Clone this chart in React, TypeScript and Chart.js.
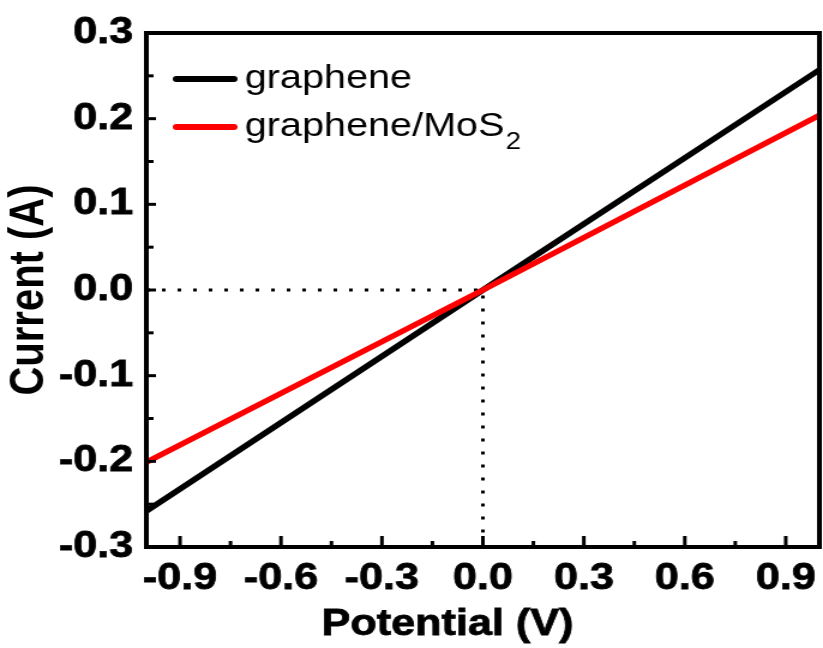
import React, { useEffect, useRef } from 'react';
import { Chart, registerables } from 'chart.js';

Chart.register(...registerables);

// ---- data ----
const potential = [-1, 0, 1];
const grapheneCurrent = [-0.258, 0, 0.257];
const mos2Current = [-0.201, 0, 0.204];
const seriesLabels = ['graphene', 'graphene/MoS₂'];
const seriesColors = ['#000000', '#ff0000'];
const guideX = [-1, 0, 0];
const guideY = [0, 0, -0.3];
const xTicks = [-0.9, -0.6, -0.3, 0, 0.3, 0.6, 0.9];
const xMinor = [-0.75, -0.45, -0.15, 0.15, 0.45, 0.75];
const yTicks = [-0.3, -0.2, -0.1, 0, 0.1, 0.2, 0.3];
const yMinor = [-0.25, -0.15, -0.05, 0.05, 0.15, 0.25];
const xTitle = 'Potential (V)';
const yTitle = 'Current (A)';

// the reference is horizontally stretched; render narrower and stretch via CSS
const OUT_W = 823;
const OUT_H = 648;
const STRETCH = 1.2;
const CANVAS_W = Math.round(OUT_W / STRETCH);

const FONT = "'Liberation Sans', Arial, sans-serif";

const framePlugin = {
  id: 'frameTicks',
  afterDraw(chart: any) {
    const { ctx, chartArea } = chart;
    const xs = chart.scales.x;
    const ys = chart.scales.y;
    ctx.save();
    ctx.strokeStyle = '#000';
    ctx.lineWidth = 3;
    ctx.lineCap = 'butt';
    const bottom = chartArea.bottom;
    const left = chartArea.left;
    const tick = (x1: number, y1: number, x2: number, y2: number) => {
      ctx.beginPath();
      ctx.moveTo(x1, y1);
      ctx.lineTo(x2, y2);
      ctx.stroke();
    };
    xTicks.forEach((v) => {
      const px = xs.getPixelForValue(v);
      tick(px, bottom, px, bottom - 11);
    });
    xMinor.forEach((v) => {
      const px = xs.getPixelForValue(v);
      tick(px, bottom, px, bottom - 6);
    });
    yTicks.slice(1, -1).forEach((v) => {
      const py = ys.getPixelForValue(v);
      tick(left, py, left + 8, py);
    });
    yMinor.forEach((v) => {
      const py = ys.getPixelForValue(v);
      tick(left, py, left + 6, py);
    });
    ctx.lineWidth = 4;
    ctx.strokeRect(chartArea.left, chartArea.top, chartArea.right - chartArea.left, chartArea.bottom - chartArea.top);

    // x-axis title (offset left of centre as in the reference)
    ctx.fillStyle = '#000';
    ctx.textAlign = 'center';
    ctx.textBaseline = 'alphabetic';
    ctx.font = `bold 36px ${FONT}`;
    ctx.lineWidth = 0.8;
    ctx.strokeStyle = '#000';
    ctx.fillText(xTitle, 373, 635);
    ctx.strokeText(xTitle, 373, 635);
    ctx.restore();
  },
};

const legendPlugin = {
  id: 'insideLegend',
  afterDraw(chart: any) {
    const { ctx } = chart;
    ctx.save();
    const rowsY = [79, 127];
    const lineX1 = 144;
    const lineX2 = 198;
    const textX = 204;
    seriesLabels.forEach((label, i) => {
      const y = rowsY[i];
      ctx.strokeStyle = seriesColors[i];
      ctx.lineWidth = 6;
      ctx.lineCap = 'round';
      ctx.beginPath();
      ctx.moveTo(lineX1 + 3, y);
      ctx.lineTo(lineX2 - 3, y);
      ctx.stroke();
      ctx.fillStyle = '#000';
      ctx.textBaseline = 'alphabetic';
      ctx.textAlign = 'left';
      ctx.font = `33px ${FONT}`;
      const parts = label.split('₂');
      ctx.fillText(parts[0], textX, y + 8.5);
      if (parts.length > 1) {
        const w = ctx.measureText(parts[0]).width;
        ctx.font = `23px ${FONT}`;
        ctx.fillText('2', textX + w + 1, y + 22);
      }
    });
    ctx.restore();
  },
};

export default function App() {
  const ref = useRef<HTMLCanvasElement | null>(null);

  useEffect(() => {
    if (!ref.current) return;
    const chart = new Chart(ref.current, {
      type: 'scatter',
      data: {
        datasets: [
          {
            label: 'guide',
            data: guideX.map((x, i) => ({ x, y: guideY[i] })),
            showLine: true,
            borderColor: '#000',
            borderWidth: 3,
            borderDash: [3, 10],
            pointRadius: 0,
            order: 3,
          },
          {
            label: seriesLabels[1],
            data: potential.map((x, i) => ({ x, y: mos2Current[i] })),
            showLine: true,
            borderColor: seriesColors[1],
            borderWidth: 5.5,
            pointRadius: 0,
            order: 1,
          },
          {
            label: seriesLabels[0],
            data: potential.map((x, i) => ({ x, y: grapheneCurrent[i] })),
            showLine: true,
            borderColor: seriesColors[0],
            borderWidth: 5.5,
            pointRadius: 0,
            order: 2,
          },
        ],
      },
      options: {
        responsive: false,
        animation: false,
        devicePixelRatio: 1,
        layout: { padding: { top: 33, right: 3, left: 0, bottom: 0 } },
        plugins: {
          legend: { display: false },
          tooltip: { enabled: false },
        },
        scales: {
          x: {
            type: 'linear',
            min: -1,
            max: 1,
            afterBuildTicks: (scale: any) => {
              scale.ticks = xTicks.map((v) => ({ value: v }));
            },
            afterFit: (scale: any) => {
              scale.height = 101;
              scale.paddingLeft = 0;
              scale.paddingRight = 0;
            },
            ticks: {
              padding: 10,
              color: '#000',
              font: { family: FONT, size: 36, weight: 'bold' },
              textStrokeColor: '#000',
              textStrokeWidth: 0.8,
              maxRotation: 0,
              autoSkip: false,
              callback: (v: any) => Number(v).toFixed(1),
            },
            grid: { display: false, drawTicks: false },
            border: { display: true, color: '#000', width: 4 },
            title: { display: false, text: xTitle },
          },
          y: {
            type: 'linear',
            min: -0.3,
            max: 0.3,
            afterBuildTicks: (scale: any) => {
              scale.ticks = yTicks.map((v) => ({ value: v }));
            },
            afterFit: (scale: any) => {
              scale.width = 122;
              scale.paddingTop = 0;
              scale.paddingBottom = 0;
            },
            ticks: {
              padding: 11,
              color: '#000',
              font: { family: FONT, size: 36, weight: 'bold' },
              textStrokeColor: '#000',
              textStrokeWidth: 0.8,
              autoSkip: false,
              callback: (v: any) => Number(v).toFixed(1),
            },
            grid: { display: false, drawTicks: false },
            border: { display: true, color: '#000', width: 4 },
            title: {
              display: true,
              text: yTitle,
              color: '#000',
              font: { family: FONT, size: 40, weight: 'bold' },
              padding: { top: 1, bottom: 0 },
            },
          },
        },
      } as any,
      plugins: [framePlugin, legendPlugin],
    });
    return () => chart.destroy();
  }, []);

  return (
    <div style={{ position: 'absolute', left: 0, top: 0, width: OUT_W, height: OUT_H, background: '#fff' }}>
      <canvas
        ref={ref}
        width={CANVAS_W}
        height={OUT_H}
        style={{ width: `${OUT_W}px`, height: `${OUT_H}px`, display: 'block' }}
      />
    </div>
  );
}
